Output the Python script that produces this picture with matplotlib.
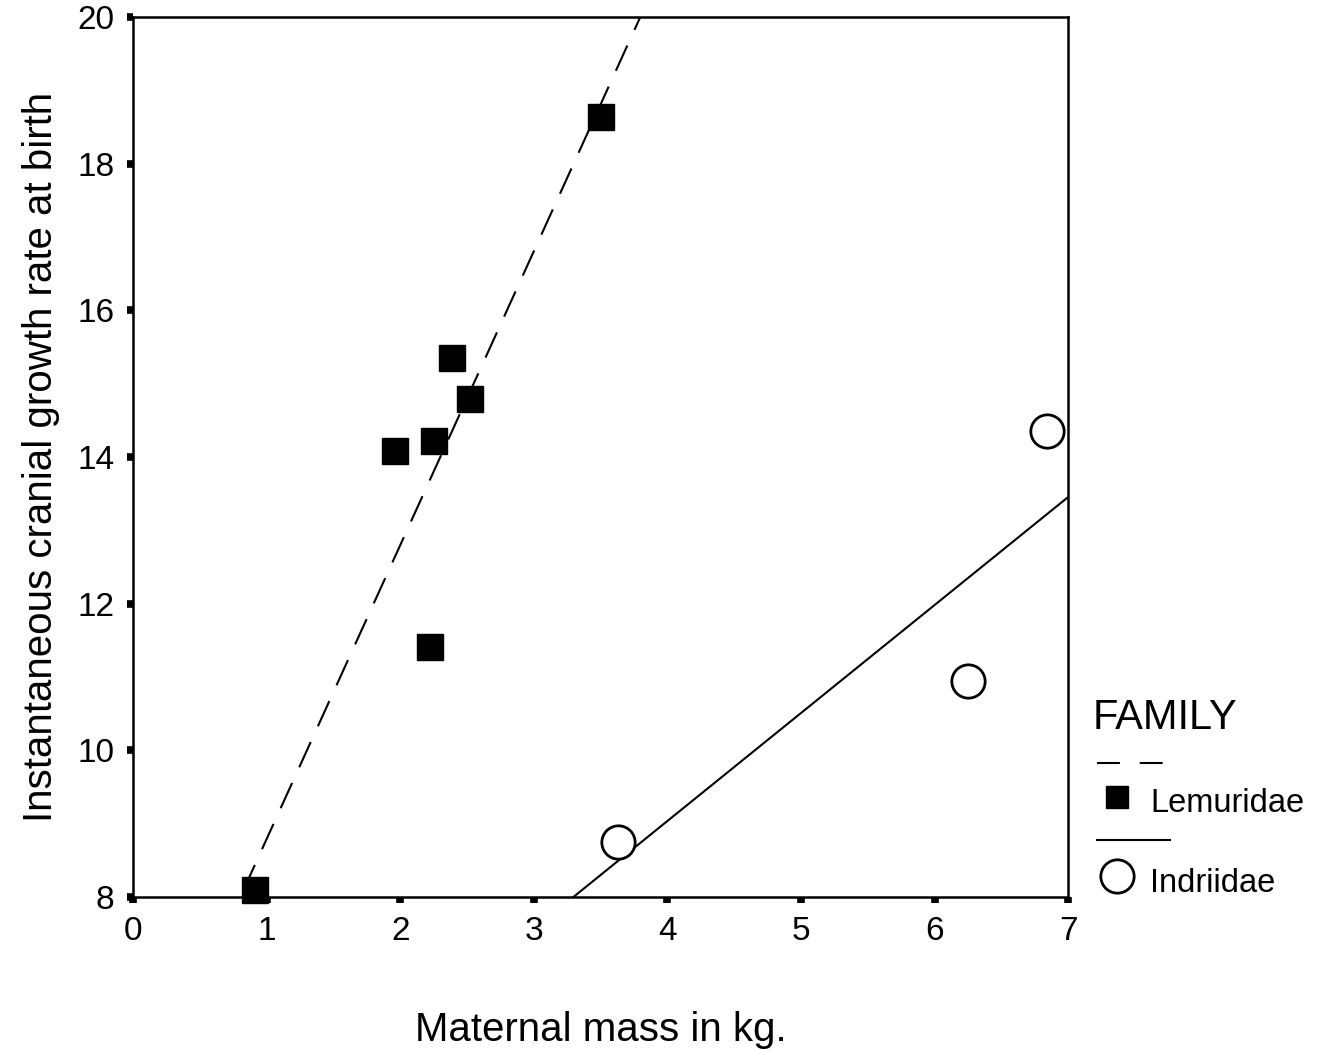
import numpy as np
from matplotlib import pyplot as plt
from matplotlib.lines import Line2D

plt.rcParams['font.family'] = ['Liberation Sans', 'DejaVu Sans']

# Lemuridae (filled squares)
lem_x = [0.91, 1.96, 2.25, 2.39, 2.52, 2.22, 3.50]
lem_y = [8.10, 14.08, 14.22, 15.35, 14.79, 11.41, 18.64]

# Indriidae (open circles)
ind_x = [3.63, 6.25, 6.84]
ind_y = [8.75, 10.95, 14.36]

x_ticks = [0, 1, 2, 3, 4, 5, 6, 7]
y_ticks = [8, 10, 12, 14, 16, 18, 20]

fig = plt.figure(figsize=(13.17, 10.53), dpi=100)
ax = fig.add_axes([0.101, 0.148, 0.710, 0.836])

# fit lines over the whole x range, clipped by the axes
xs = np.linspace(0, 7, 200)
p_lem = np.polyfit(lem_x, lem_y, 1)
p_ind = np.polyfit(ind_x, ind_y, 1)
ax.plot(xs, np.polyval(p_lem, xs), color='black', lw=1.5,
        dashes=(13.3, 8.3), zorder=2)
ax.plot(xs, np.polyval(p_ind, xs), color='black', lw=1.5, zorder=2)

ax.plot(lem_x, lem_y, 's', color='black', ms=18.5, zorder=3, clip_on=False)
ax.plot(ind_x, ind_y, 'o', mfc='white', mec='black', mew=2, ms=24,
        zorder=3, clip_on=False)

ax.set_xlim(0, 7)
ax.set_ylim(8, 20)
ax.set_xticks(x_ticks)
ax.set_yticks(y_ticks)
ax.tick_params(direction='out', length=4.5, width=5.5, labelsize=24, pad=9)
for s in ax.spines.values():
    s.set_linewidth(1.8)

ax.set_xlabel('Maternal mass in kg.', fontsize=29, labelpad=46)
ax.set_ylabel('Instantaneous cranial growth rate at birth', fontsize=29,
              labelpad=12)

# legend drawn by hand to the right of the axes
W, H = 1317, 1053
fig.text(1093 / W, 1 - 718 / H, 'FAMILY', fontsize=30, va='center')
fig.add_artist(Line2D([1097 / W, 1170 / W], [1 - 763 / H] * 2, color='black',
                      lw=1.5, dashes=(11, 9.5), transform=fig.transFigure))
fig.add_artist(Line2D([1117 / W], [1 - 797 / H], marker='s', color='black',
                      ms=16, transform=fig.transFigure))
fig.text(1150 / W, 1 - 804 / H, 'Lemuridae', fontsize=23.5, va='center')
fig.add_artist(Line2D([1097 / W, 1170 / W], [1 - 840 / H] * 2, color='black',
                      lw=1.5, transform=fig.transFigure))
fig.add_artist(Line2D([1117 / W], [1 - 876 / H], marker='o', mfc='white',
                      mec='black', mew=2, ms=24, transform=fig.transFigure))
fig.text(1150 / W, 1 - 884 / H, 'Indriidae', fontsize=23.5, va='center')

fig.savefig('out.png', dpi=100)
